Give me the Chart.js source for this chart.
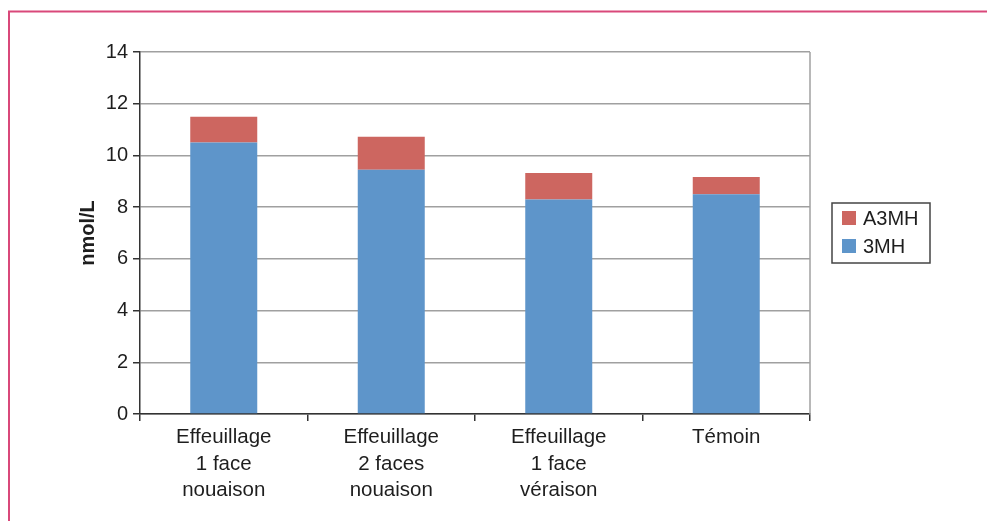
<!DOCTYPE html>
<html>
<head>
<meta charset="utf-8">
<script src="https://cdn.jsdelivr.net/npm/chart.js@4.4.1/dist/chart.umd.min.js"></script>
<style>
  html, body { margin: 0; padding: 0; background: #fff; }
  #wrap { width: 987px; height: 521px; position: relative; }
</style>
</head>
<body>
<div id="wrap"><canvas id="chart"></canvas></div>
<script>
// données
const categories = [
  ['Effeuillage', '1 face', 'nouaison'],
  ['Effeuillage', '2 faces', 'nouaison'],
  ['Effeuillage', '1 face', 'véraison'],
  ['Témoin']
]
const val3MH = [10.5, 9.45, 8.3, 8.5]
const valA3MH = [1.0, 1.27, 1.02, 0.67]
const yTicks = [0, 2, 4, 6, 8, 10, 12, 14]

const FONT = 'Liberation Sans, Arial, Helvetica, sans-serif'
const TXT = '#1e1e1e'

// cadre rose + bord droit du graphe
const framePlugin = {
  id: 'frame',
  afterDraw(chart) {
    const c = chart.ctx
    const a = chart.chartArea
    c.save()
    c.strokeStyle = '#d9487a'
    c.lineWidth = 2
    c.beginPath()
    c.moveTo(9, 521)
    c.lineTo(9, 11.5)
    c.lineTo(987, 11.5)
    c.stroke()
    c.strokeStyle = '#a0a0a0'
    c.lineWidth = 1.5
    c.beginPath()
    c.moveTo(a.right, a.top)
    c.lineTo(a.right, a.bottom)
    c.stroke()
    c.restore()
  }
}

// légende encadrée, à droite
const legendPlugin = {
  id: 'boxLegend',
  afterDraw(chart) {
    const c = chart.ctx
    const ds = chart.data.datasets.slice().reverse()
    const x0 = 832, y0 = 203, w = 98, h = 60
    c.save()
    c.strokeStyle = '#444'
    c.lineWidth = 1.5
    c.strokeRect(x0, y0, w, h)
    c.font = '20px ' + FONT
    c.textBaseline = 'middle'
    ds.forEach((d, i) => {
      const cy = y0 + 15 + i * 28
      c.fillStyle = d.backgroundColor
      c.fillRect(x0 + 10, cy - 7, 14, 14)
      c.fillStyle = TXT
      c.fillText(d.label, x0 + 31, cy + 1)
    })
    c.restore()
  }
}

const ctx = document.getElementById('chart').getContext('2d')
const myChart = new Chart(ctx, {
  type: 'bar',
  data: {
    labels: categories,
    datasets: [
      { label: '3MH', data: val3MH, backgroundColor: '#5e95ca', borderWidth: 0 },
      { label: 'A3MH', data: valA3MH, backgroundColor: '#cd6660', borderWidth: 0 }
    ]
  },
  options: {
    responsive: true,
    maintainAspectRatio: false,
    animation: false,
    layout: { padding: { top: 52, right: 177, left: 0, bottom: 0 } },
    plugins: {
      legend: { display: false },
      tooltip: { enabled: false }
    },
    datasets: {
      bar: { barPercentage: 0.4, categoryPercentage: 1 }
    },
    scales: {
      x: {
        stacked: true,
        afterFit: s => { s.height = 107 },
        grid: {
          offset: true,
          drawOnChartArea: false,
          drawTicks: true,
          tickLength: 7,
          tickColor: '#333',
          lineWidth: 1.5
        },
        border: { color: '#333', width: 1.5 },
        ticks: {
          color: TXT,
          font: { family: FONT, size: 20.5, lineHeight: 1.3 },
          padding: 3,
          maxRotation: 0,
          autoSkip: false
        }
      },
      y: {
        stacked: true,
        min: 0,
        max: 14,
        afterFit: s => { s.width = 140 },
        afterBuildTicks: s => { s.ticks = yTicks.map(v => ({ value: v })) },
        grid: {
          color: '#a0a0a0',
          lineWidth: 1.5,
          tickColor: '#333',
          tickLength: 7
        },
        border: { color: '#333', width: 1.5 },
        ticks: {
          color: TXT,
          font: { family: FONT, size: 20 },
          padding: 5
        },
        title: {
          display: true,
          text: 'nmol/L',
          color: TXT,
          font: { family: FONT, size: 20, weight: 'bold' },
          padding: { top: 76, bottom: 0 }
        }
      }
    }
  },
  plugins: [framePlugin, legendPlugin]
})
</script>
</body>
</html>
